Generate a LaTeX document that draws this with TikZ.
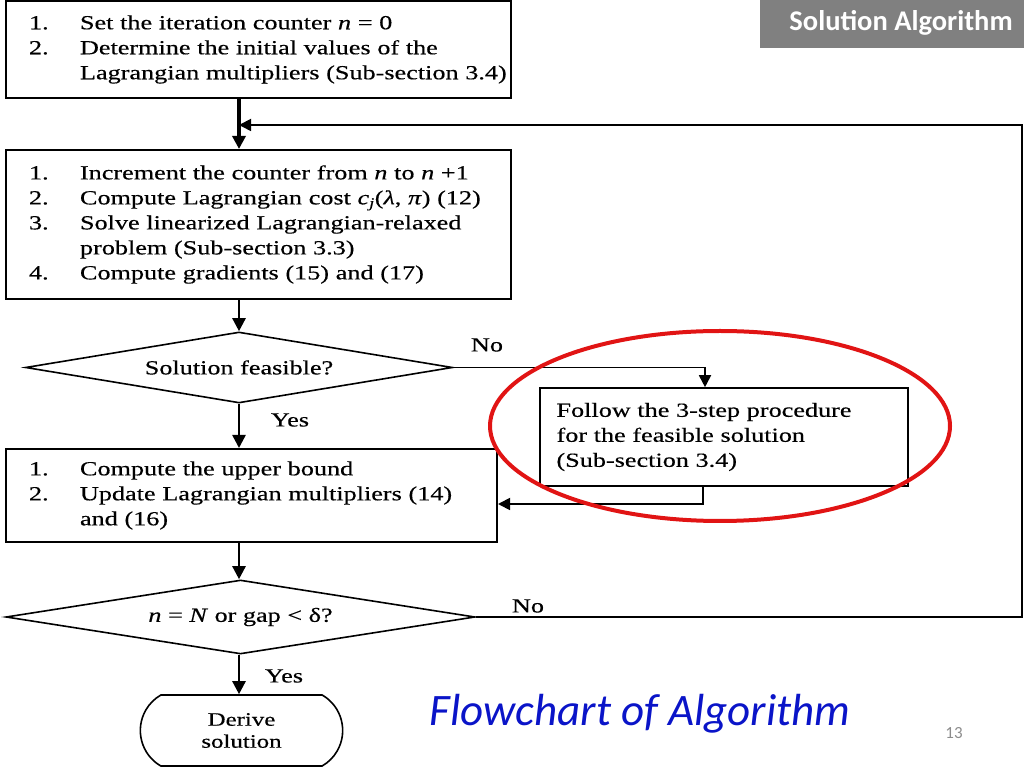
\documentclass[tikz,border=0pt]{standalone}
\usepackage{fontspec}
\setmainfont[FakeStretch=1.31,FakeBold=0.4]{Liberation Serif}
\newfontfamily\slidefont{Carlito}
\usepackage{tikz}
\usetikzlibrary{arrows.meta,positioning,shapes.geometric,shapes.misc,calc}
\definecolor{titlegray}{RGB}{128,128,128}
\definecolor{pagegray}{RGB}{140,140,140}
\definecolor{flowblue}{RGB}{10,20,200}
\definecolor{markred}{RGB}{225,20,20}
\newcommand{\itm}[2]{\hspace*{23pt}\makebox[51pt][l]{#1}#2}
\newcommand{\cnt}[1]{\hspace*{74pt}#1}
\tikzset{
  stepbox/.style={draw, line width=2pt, rectangle, align=left, inner xsep=0pt,
    font=\fontsize{20}{25}\selectfont},
  decide/.style={draw, line width=1.6pt, diamond, aspect=6, inner sep=0pt,
    font=\fontsize{20}{25}\selectfont},
  endbox/.style={draw, line width=1.6pt, rounded rectangle, rounded rectangle arc length=120,
    align=center, font=\fontsize{19}{22}\selectfont},
  flowarrow/.style={-{Triangle[length=13pt,width=13pt]}, line width=2.5pt},
  backarrow/.style={-{Triangle[length=12pt,width=12pt]}, line width=1.8pt},
  answer/.style={font=\fontsize{20}{25}\selectfont}
}
\begin{document}
\begin{tikzpicture}[x=1pt,y=1pt]
            \useasboundingbox (0,0) rectangle (1024,768);

            % Draw the title tab
            \fill[titlegray] (760,720) rectangle (1024,768);
            \node[text=white, font=\slidefont\bfseries\fontsize{28.5}{32}\selectfont] (title) at (901,745) {Solution Algorithm};

            % Draw the steps
            \node[stepbox, minimum width=505pt, minimum height=97pt, text width=505pt] (init) at (258.5,718.5)
              {\itm{1.}{Set the iteration counter \textit{n} = 0}\\
               \itm{2.}{Determine the initial values of the}\\
               \cnt{Lagrangian multipliers (Sub-section 3.4)}};

            \node[stepbox, minimum width=505pt, minimum height=149pt, text width=505pt] (iter) at (258.5,543.5)
              {\itm{1.}{Increment the counter from \textit{n} to \textit{n} +1}\\
               \itm{2.}{Compute Lagrangian cost \textit{c\textsubscript{j}}(\textit{λ}, \textit{π}) (12)}\\
               \itm{3.}{Solve linearized Lagrangian-relaxed}\\
               \cnt{problem (Sub-section 3.3)}\\
               \itm{4.}{Compute gradients (15) and (17)}};

            \node[decide, minimum width=427pt, minimum height=71pt] (feas) at (239,400.5) {Solution feasible?};

            \node[stepbox, minimum width=368pt, minimum height=98pt, text width=335pt, inner xsep=16.5pt, line width=1.6pt] (repair) at (724,331)
              {Follow the 3-step procedure\\
               for the feasible solution\\
               (Sub-section 3.4)};

            \node[stepbox, minimum width=491pt, minimum height=93pt, text width=491pt] (update) at (251.5,272.5)
              {\itm{1.}{Compute the upper bound}\\
               \itm{2.}{Update Lagrangian multipliers (14)}\\
               \cnt{and (16)}};

            \node[decide, minimum width=469pt, minimum height=74pt] (stop) at (240.5,151)
              {\textit{n} = \textit{N} or gap < δ?};

            \node[endbox, minimum width=209pt, minimum height=71pt] (derive) at (241.5,37.5) {Derive\\solution};

            % Answers on the branches
            \node[answer] (no1) at (487,423) {No};
            \node[answer] (yes1) at (290,348) {Yes};
            \node[answer] (no2) at (528,162) {No};
            \node[answer] (yes2) at (284,92) {Yes};

            % Draw the connectors
            \coordinate (rt) at (1022,643);
            \coordinate (join) at (239,643);
            \draw[flowarrow, line width=3.5pt] (init.south -| feas.north) -- (iter.north -| feas.north);
            \draw[flowarrow] (iter.south -| feas.north) -- (feas.north);
            \draw[flowarrow] (feas.south) -- (update.north -| feas.south);
            \draw[flowarrow] (update.south -| feas.south) -- (stop.north -| feas.south);
            \draw[flowarrow] (stop.south -| feas.south) -- (derive.north -| feas.south);
            \draw[backarrow] (feas.east) -| ($(repair.north)+(-19,0)$);
            \draw[backarrow] ($(repair.south)+(-21,0)$) |- ($(update.east)+(0,-8.5)$);
            \draw[backarrow] (stop.east) -| (rt) -- (join);

            % Mark the repair step
            \draw[markred, line width=4pt] (720,342) ellipse [x radius=230pt, y radius=95pt];

            % Caption and page number
            \node[text=flowblue, font=\slidefont\itshape\fontsize{45}{50}\selectfont] (caption) at (640,54) {Flowchart of Algorithm};
            \node[text=pagegray, font=\slidefont\fontsize{17}{20}\selectfont] (page) at (954,35) {13};

        \end{tikzpicture}
\end{document}
